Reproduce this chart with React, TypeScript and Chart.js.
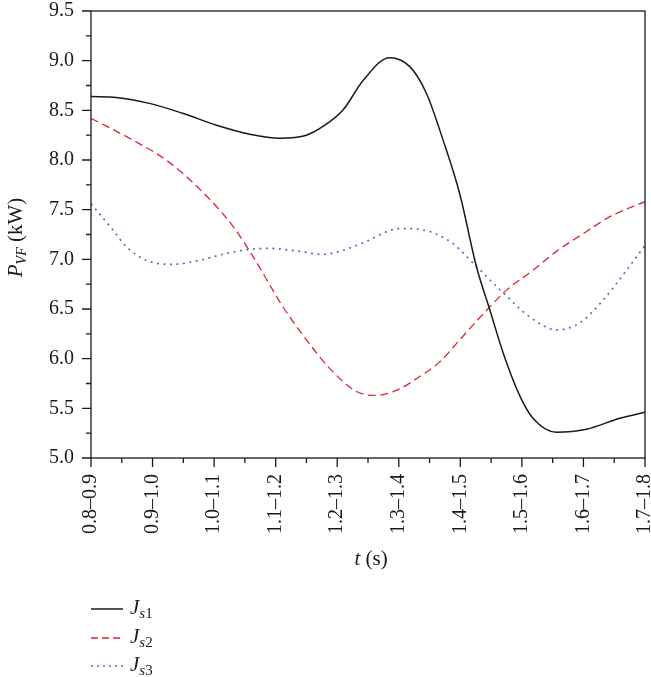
import React, { useEffect, useRef } from "react";
import { Chart, registerables } from "chart.js";

Chart.register(...registerables);

// Time-interval categories along the horizontal axis (index 0..9)
const intervalLabels = [
  "0.8–0.9",
  "0.9–1.0",
  "1.0–1.1",
  "1.1–1.2",
  "1.2–1.3",
  "1.3–1.4",
  "1.4–1.5",
  "1.5–1.6",
  "1.6–1.7",
  "1.7–1.8",
];

const Y_MIN = 5.0;
const Y_MAX = 9.5;
const Y_STEP = 0.5;

// J_s1: positions on the interval axis and power values (kW)
const js1Pos = [0, 0.41, 0.95, 1.49, 2.04, 2.58, 3.07, 3.5, 3.75, 4.09, 4.42, 4.85, 5.18, 5.45, 5.72, 5.99, 6.26, 6.48, 6.7, 6.97, 7.18, 7.56, 8.05, 8.59, 9.0];
const js1Power = [8.64, 8.63, 8.57, 8.47, 8.35, 8.26, 8.22, 8.25, 8.33, 8.5, 8.8, 9.03, 8.94, 8.67, 8.2, 7.66, 6.93, 6.49, 6.05, 5.62, 5.4, 5.26, 5.29, 5.4, 5.46];

// J_s2
const js2Pos = [0, 0.68, 1.22, 1.76, 2.31, 2.63, 3.12, 3.5, 3.88, 4.31, 4.61, 4.96, 5.34, 5.67, 5.99, 6.43, 6.75, 7.18, 7.56, 8.05, 8.43, 9.0];
const js2Power = [8.42, 8.2, 8.0, 7.71, 7.33, 7.03, 6.52, 6.19, 5.9, 5.67, 5.63, 5.68, 5.82, 5.97, 6.19, 6.49, 6.69, 6.89, 7.08, 7.28, 7.43, 7.58];

// J_s3
const js3Pos = [0, 0.35, 0.57, 0.9, 1.33, 1.76, 2.2, 2.58, 2.9, 3.39, 3.75, 4.04, 4.47, 4.91, 5.13, 5.5, 5.75, 5.88, 6.26, 6.7, 7.13, 7.56, 7.94, 8.32, 8.7, 9.0];
const js3Power = [7.56, 7.3, 7.13, 6.99, 6.95, 6.99, 7.06, 7.1, 7.11, 7.08, 7.05, 7.08, 7.18, 7.3, 7.31, 7.28, 7.21, 7.16, 6.93, 6.66, 6.42, 6.29, 6.36, 6.59, 6.89, 7.14];

const INK = "#1a1a1a";
const RED = "#e3232f";
const BLUE = "#4d73c6";
const SERIF = "'Liberation Serif', 'DejaVu Serif', serif";

const toPoints = (xs: number[], ys: number[]) => xs.map((x, i) => ({ x, y: ys[i] }));

type Run = { text: string; font: string; dy?: number };

function drawRuns(ctx: CanvasRenderingContext2D, runs: Run[], x: number, y: number, align: "left" | "center") {
  let total = 0;
  for (const r of runs) {
    ctx.font = r.font;
    total += ctx.measureText(r.text).width;
  }
  let cx = align === "center" ? x - total / 2 : x;
  for (const r of runs) {
    ctx.font = r.font;
    ctx.fillText(r.text, cx, y + (r.dy || 0));
    cx += ctx.measureText(r.text).width;
  }
}

const legendItems = [
  { color: INK, dash: [] as number[], width: 1.5, idx: "1", y: 609 },
  { color: RED, dash: [7, 4], width: 1.3, idx: "2", y: 638 },
  { color: BLUE, dash: [2, 4], width: 1.6, idx: "3", y: 666 },
];

const decorations = {
  id: "decorations",
  afterDraw(chart: any) {
    const { ctx, chartArea: a, scales } = chart;
    const xs = scales.x;
    const ys = scales.y;
    ctx.save();

    // frame
    ctx.strokeStyle = INK;
    ctx.lineWidth = 1.3;
    ctx.setLineDash([]);
    ctx.strokeRect(a.left, a.top, a.right - a.left, a.bottom - a.top);

    // major and minor tick marks, outward
    ctx.beginPath();
    const ySteps = Math.round((Y_MAX - Y_MIN) / (Y_STEP / 2));
    for (let i = 0; i <= ySteps; i++) {
      const y = ys.getPixelForValue(Y_MIN + (i * Y_STEP) / 2);
      ctx.moveTo(a.left, y);
      ctx.lineTo(a.left - (i % 2 === 0 ? 9 : 5), y);
    }
    const xSteps = (intervalLabels.length - 1) * 2;
    for (let i = 0; i <= xSteps; i++) {
      const x = xs.getPixelForValue(i / 2);
      ctx.moveTo(x, a.bottom);
      ctx.lineTo(x, a.bottom + (i % 2 === 0 ? 9 : 5));
    }
    ctx.stroke();

    ctx.fillStyle = INK;
    ctx.textBaseline = "alphabetic";
    ctx.textAlign = "left";

    // y-axis title
    ctx.save();
    ctx.translate(22, (a.top + a.bottom) / 2 + 3);
    ctx.rotate(-Math.PI / 2);
    drawRuns(
      ctx,
      [
        { text: "P", font: `italic 21px ${SERIF}` },
        { text: "VF", font: `italic 14px ${SERIF}`, dy: 4 },
        { text: " (kW)", font: `21px ${SERIF}` },
      ],
      0,
      0,
      "center"
    );
    ctx.restore();

    // x-axis title
    drawRuns(
      ctx,
      [
        { text: "t", font: `italic 21px ${SERIF}` },
        { text: " (s)", font: `21px ${SERIF}` },
      ],
      (a.left + a.right) / 2 + 3,
      565,
      "center"
    );

    // legend
    legendItems.forEach((it) => {
      const y = it.y;
      ctx.strokeStyle = it.color;
      ctx.lineWidth = it.width;
      ctx.setLineDash(it.dash);
      ctx.beginPath();
      ctx.moveTo(91, y);
      ctx.lineTo(123, y);
      ctx.stroke();
      ctx.setLineDash([]);
      drawRuns(
        ctx,
        [
          { text: "J", font: `italic 21px ${SERIF}` },
          { text: "s", font: `italic 15px ${SERIF}`, dy: 4 },
          { text: it.idx, font: `15px ${SERIF}`, dy: 4 },
        ],
        130,
        y + 5,
        "left"
      );
    });

    ctx.restore();
  },
};

export default function App() {
  const canvasRef = useRef<HTMLCanvasElement | null>(null);

  useEffect(() => {
    const canvas = canvasRef.current;
    if (!canvas) return;
    const lineCommon = {
      pointRadius: 0,
      pointHoverRadius: 0,
      fill: false,
      cubicInterpolationMode: "monotone" as const,
    };
    const chart = new Chart(canvas, {
      type: "line",
      data: {
        datasets: [
          {
            ...lineCommon,
            label: "Js1",
            data: toPoints(js1Pos, js1Power),
            borderColor: INK,
            borderWidth: 1.5,
          },
          {
            ...lineCommon,
            label: "Js2",
            data: toPoints(js2Pos, js2Power),
            borderColor: RED,
            borderWidth: 1.3,
            borderDash: [8, 4.5],
          },
          {
            ...lineCommon,
            label: "Js3",
            data: toPoints(js3Pos, js3Power),
            borderColor: BLUE,
            borderWidth: 1.7,
            borderDash: [2, 4.5],
          },
        ],
      },
      options: {
        animation: false,
        responsive: false,
        maintainAspectRatio: false,
        layout: { padding: { left: 0, right: 6, top: 11, bottom: 0 } },
        plugins: {
          legend: { display: false },
          tooltip: { enabled: false },
        },
        scales: {
          x: {
            type: "linear",
            min: 0,
            max: intervalLabels.length - 1,
            grid: { display: false, drawTicks: false },
            border: { display: false },
            ticks: {
              stepSize: 1,
              autoSkip: false,
              minRotation: 90,
              maxRotation: 90,
              padding: 16,
              color: INK,
              font: { family: SERIF, size: 20 },
              callback: (v: any) => intervalLabels[Math.round(Number(v))] ?? "",
            },
            afterFit: (s: any) => {
              s.height = 677 - 458;
              s.paddingLeft = 0;
              s.paddingRight = 0;
            },
          },
          y: {
            type: "linear",
            min: Y_MIN,
            max: Y_MAX,
            grid: { display: false, drawTicks: false },
            border: { display: false },
            ticks: {
              stepSize: Y_STEP,
              padding: 17,
              color: INK,
              font: { family: SERIF, size: 20 },
              callback: (v: any) => Number(v).toFixed(1),
            },
            afterFit: (s: any) => {
              s.width = 91;
              s.paddingTop = 0;
              s.paddingBottom = 0;
            },
          },
        },
      },
      plugins: [decorations],
    });
    return () => chart.destroy();
  }, []);

  return (
    <div style={{ position: "fixed", left: 0, top: 0, width: 651, height: 677, background: "#fff" }}>
      <canvas ref={canvasRef} width={651} height={677} style={{ display: "block", width: 651, height: 677 }} />
    </div>
  );
}
